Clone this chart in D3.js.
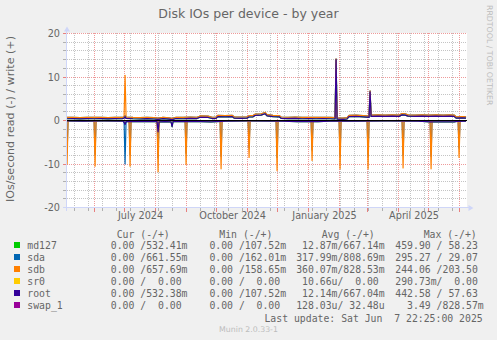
<!DOCTYPE html>
<html><head><meta charset="utf-8">
<script src="https://cdn.jsdelivr.net/npm/d3@7"></script>
<style>
html,body{margin:0;padding:0;background:#f0f0f0;}
svg{display:block;}
text{font-family:"DejaVu Sans",sans-serif;fill:#666;}
.mono{font-family:"DejaVu Sans Mono",monospace;white-space:pre;font-size:9.8px;}
</style></head><body>
<svg id="chart" width="497" height="340"></svg>
<script>
// ---- chart text ----
const title = "Disk IOs per device - by year";
const yLabel = "IOs/second read (-) / write (+)";
const yTicks = [-20, -10, 0, 10, 20];
const monthLabelMonths = ["2024-07-01", "2024-10-01", "2025-01-01", "2025-04-01"];
const monthLabels = ["July 2024", "October 2024", "January 2025", "April 2025"];
const rangeStart = "2024-05-03T22:25";
const rangeEnd = "2025-06-07T22:25";

// ---- devices ----
const devices = ["md127", "sda", "sdb", "sr0", "root", "swap_1"];
const colors = ["#00cc00", "#0066b3", "#ff8000", "#ffcc00", "#330099", "#990099"];

// ---- daily averages, read (plotted below zero) and write (above zero) ----
const md127Read = [["2024-05-04",0.10],["2024-05-20",0.15],["2024-06-10",0.10],["2024-06-29",0.15],["2024-06-30",0.40],["2024-07-01",0.90],["2024-07-02",0.25],["2024-07-15",0.20],["2024-08-02",0.25],["2024-08-03",2.60],["2024-08-04",0.30],["2024-08-10",0.25],["2024-08-16",0.30],["2024-08-17",1.40],["2024-08-18",0.25],["2024-09-05",0.20],["2024-09-25",0.30],["2024-10-10",0.15],["2024-11-01",0.10],["2024-12-05",0.15],["2024-12-20",0.25],["2025-01-10",0.25],["2025-01-27",0.10],["2025-02-15",0.15],["2025-03-20",0.10],["2025-04-20",0.15],["2025-05-02",0.30],["2025-05-26",0.30],["2025-05-29",0.20],["2025-06-07",0.15]];
const md127Write = [["2024-05-04",0.40],["2024-05-10",0.45],["2024-05-17",0.38],["2024-05-24",0.42],["2024-05-31",0.40],["2024-06-07",0.45],["2024-06-14",0.38],["2024-06-21",0.42],["2024-06-28",0.40],["2024-06-30",0.55],["2024-07-01",0.85],["2024-07-02",0.50],["2024-07-09",0.40],["2024-07-16",0.35],["2024-07-23",0.42],["2024-07-30",0.35],["2024-08-03",0.25],["2024-08-08",0.45],["2024-08-14",0.30],["2024-08-17",0.20],["2024-08-21",0.45],["2024-08-28",0.40],["2024-09-04",0.50],["2024-09-11",0.45],["2024-09-14",0.75],["2024-09-22",0.70],["2024-09-26",0.45],["2024-09-30",0.50],["2024-10-02",0.90],["2024-10-09",0.85],["2024-10-16",0.90],["2024-10-18",0.55],["2024-10-25",0.50],["2024-10-31",0.55],["2024-11-02",0.80],["2024-11-06",0.85],["2024-11-08",1.15],["2024-11-14",1.25],["2024-11-18",1.55],["2024-11-20",1.05],["2024-11-26",0.90],["2024-12-02",0.85],["2024-12-04",0.50],["2024-12-11",0.45],["2024-12-18",0.50],["2024-12-25",0.40],["2025-01-01",0.45],["2025-01-08",0.40],["2025-01-15",0.45],["2025-01-22",0.40],["2025-01-27",0.35],["2025-01-28",14.0],["2025-01-29",0.30],["2025-02-04",0.25],["2025-02-08",0.35],["2025-02-10",0.90],["2025-02-17",0.95],["2025-02-24",0.85],["2025-03-02",0.70],["2025-03-03",6.6],["2025-03-04",0.95],["2025-03-11",1.00],["2025-03-18",0.95],["2025-03-25",1.00],["2025-04-01",0.95],["2025-04-04",1.30],["2025-04-07",1.25],["2025-04-10",1.00],["2025-04-17",0.95],["2025-04-24",1.00],["2025-05-01",0.95],["2025-05-08",1.00],["2025-05-15",0.95],["2025-05-22",1.00],["2025-05-26",0.95],["2025-05-28",0.55],["2025-06-03",0.60],["2025-06-07",0.55]];

const sdaRead = [["2024-05-04",7.5],["2024-05-05",0.02],["2024-05-31",0.02],["2024-06-01",7.8],["2024-06-02",0.02],["2024-06-30",0.02],["2024-07-01",10.0],["2024-07-02",0.02],["2024-07-05",0.02],["2024-07-06",7.8],["2024-07-07",0.02],["2024-08-02",0.02],["2024-08-03",8.6],["2024-08-04",0.02],["2024-08-30",0.02],["2024-08-31",7.5],["2024-09-01",0.02],["2024-10-04",0.02],["2024-10-05",8.2],["2024-10-06",0.02],["2024-11-01",0.02],["2024-11-02",6.3],["2024-11-03",0.02],["2024-11-29",0.02],["2024-11-30",8.5],["2024-12-01",0.02],["2025-01-03",0.02],["2025-01-04",6.8],["2025-01-05",0.02],["2025-01-31",0.02],["2025-02-01",8.2],["2025-02-02",0.02],["2025-02-28",0.02],["2025-03-01",8.2],["2025-03-02",0.02],["2025-04-04",0.02],["2025-04-05",8.0],["2025-04-06",0.02],["2025-05-02",0.02],["2025-05-03",8.2],["2025-05-04",0.02],["2025-05-30",0.02],["2025-05-31",6.3],["2025-06-01",0.02],["2025-06-07",0.02]];
const sdaWrite = [["2024-05-04",0.70],["2024-05-10",0.75],["2024-05-17",0.68],["2024-05-24",0.72],["2024-05-31",0.70],["2024-06-07",0.75],["2024-06-14",0.68],["2024-06-21",0.72],["2024-06-28",0.70],["2024-06-30",0.85],["2024-07-01",1.15],["2024-07-02",0.80],["2024-07-09",0.70],["2024-07-16",0.65],["2024-07-23",0.72],["2024-07-30",0.65],["2024-08-03",0.55],["2024-08-08",0.75],["2024-08-14",0.60],["2024-08-17",0.50],["2024-08-21",0.75],["2024-08-28",0.70],["2024-09-04",0.80],["2024-09-11",0.75],["2024-09-14",1.05],["2024-09-22",1.00],["2024-09-26",0.75],["2024-09-30",0.80],["2024-10-02",1.20],["2024-10-09",1.15],["2024-10-16",1.20],["2024-10-18",0.85],["2024-10-25",0.80],["2024-10-31",0.85],["2024-11-02",1.10],["2024-11-06",1.15],["2024-11-08",1.45],["2024-11-14",1.55],["2024-11-18",1.85],["2024-11-20",1.35],["2024-11-26",1.20],["2024-12-02",1.15],["2024-12-04",0.80],["2024-12-11",0.75],["2024-12-18",0.80],["2024-12-25",0.70],["2025-01-01",0.75],["2025-01-08",0.70],["2025-01-15",0.75],["2025-01-22",0.70],["2025-01-27",0.65],["2025-01-28",14.2],["2025-01-29",0.60],["2025-02-04",0.55],["2025-02-08",0.65],["2025-02-10",1.20],["2025-02-17",1.25],["2025-02-24",1.15],["2025-03-02",1.00],["2025-03-03",6.8],["2025-03-04",1.25],["2025-03-11",1.30],["2025-03-18",1.25],["2025-03-25",1.30],["2025-04-01",1.25],["2025-04-04",1.60],["2025-04-07",1.55],["2025-04-10",1.30],["2025-04-17",1.25],["2025-04-24",1.30],["2025-05-01",1.25],["2025-05-08",1.30],["2025-05-15",1.25],["2025-05-22",1.30],["2025-05-26",1.25],["2025-05-28",0.85],["2025-06-03",0.90],["2025-06-07",0.85]];

const sdbRead = [["2024-05-04",10.1],["2024-05-05",0.03],["2024-05-31",0.03],["2024-06-01",10.5],["2024-06-02",0.03],["2024-07-05",0.03],["2024-07-06",10.5],["2024-07-07",0.03],["2024-08-02",0.03],["2024-08-03",11.8],["2024-08-04",0.03],["2024-08-30",0.03],["2024-08-31",10.1],["2024-09-01",0.03],["2024-10-04",0.03],["2024-10-05",11.1],["2024-10-06",0.03],["2024-11-01",0.03],["2024-11-02",8.5],["2024-11-03",0.03],["2024-11-29",0.03],["2024-11-30",11.5],["2024-12-01",0.03],["2025-01-03",0.03],["2025-01-04",9.2],["2025-01-05",0.03],["2025-01-31",0.03],["2025-02-01",11.1],["2025-02-02",0.03],["2025-02-28",0.03],["2025-03-01",11.1],["2025-03-02",0.03],["2025-04-04",0.03],["2025-04-05",10.9],["2025-04-06",0.03],["2025-05-02",0.03],["2025-05-03",11.1],["2025-05-04",0.03],["2025-05-30",0.03],["2025-05-31",8.5],["2025-06-01",0.03],["2025-06-07",0.03]];
const sdbWrite = [["2024-05-04",0.70],["2024-05-10",0.75],["2024-05-17",0.68],["2024-05-24",0.72],["2024-05-31",0.70],["2024-06-07",0.75],["2024-06-14",0.68],["2024-06-21",0.72],["2024-06-28",0.70],["2024-06-30",0.85],["2024-07-01",10.4],["2024-07-02",0.80],["2024-07-09",0.70],["2024-07-16",0.65],["2024-07-23",0.72],["2024-07-30",0.65],["2024-08-03",0.55],["2024-08-08",0.75],["2024-08-14",0.60],["2024-08-17",0.50],["2024-08-21",0.75],["2024-08-28",0.70],["2024-09-04",0.80],["2024-09-11",0.75],["2024-09-14",1.05],["2024-09-22",1.00],["2024-09-26",0.75],["2024-09-30",0.80],["2024-10-02",1.20],["2024-10-09",1.15],["2024-10-16",1.20],["2024-10-18",0.85],["2024-10-25",0.80],["2024-10-31",0.85],["2024-11-02",1.10],["2024-11-06",1.15],["2024-11-08",1.45],["2024-11-14",1.55],["2024-11-18",1.85],["2024-11-20",1.35],["2024-11-26",1.20],["2024-12-02",1.15],["2024-12-04",0.80],["2024-12-11",0.75],["2024-12-18",0.80],["2024-12-25",0.70],["2025-01-01",0.75],["2025-01-08",0.70],["2025-01-15",0.75],["2025-01-22",0.70],["2025-01-27",0.65],["2025-01-28",14.2],["2025-01-29",0.60],["2025-02-04",0.55],["2025-02-08",0.65],["2025-02-10",1.20],["2025-02-17",1.25],["2025-02-24",1.15],["2025-03-02",1.00],["2025-03-03",6.8],["2025-03-04",1.25],["2025-03-11",1.30],["2025-03-18",1.25],["2025-03-25",1.30],["2025-04-01",1.25],["2025-04-04",1.60],["2025-04-07",1.55],["2025-04-10",1.30],["2025-04-17",1.25],["2025-04-24",1.30],["2025-05-01",1.25],["2025-05-08",1.30],["2025-05-15",1.25],["2025-05-22",1.30],["2025-05-26",1.25],["2025-05-28",0.85],["2025-06-03",0.90],["2025-06-07",0.85]];

const sr0Read = [["2024-05-04",0],["2025-06-07",0]];
const sr0Write = [["2024-05-04",0],["2025-06-07",0]];

const rootRead = [["2024-05-04",0.10],["2024-05-20",0.15],["2024-06-10",0.10],["2024-06-29",0.15],["2024-06-30",0.40],["2024-07-01",0.90],["2024-07-02",0.25],["2024-07-15",0.20],["2024-08-02",0.25],["2024-08-03",2.60],["2024-08-04",0.30],["2024-08-10",0.25],["2024-08-16",0.30],["2024-08-17",1.40],["2024-08-18",0.25],["2024-09-05",0.20],["2024-09-25",0.30],["2024-10-10",0.15],["2024-11-01",0.10],["2024-12-05",0.15],["2024-12-20",0.25],["2025-01-10",0.25],["2025-01-27",0.10],["2025-02-15",0.15],["2025-03-20",0.10],["2025-04-20",0.15],["2025-05-02",0.30],["2025-05-26",0.30],["2025-05-29",0.20],["2025-06-07",0.15]];
const rootWrite = [["2024-05-04",0.40],["2024-05-10",0.45],["2024-05-17",0.38],["2024-05-24",0.42],["2024-05-31",0.40],["2024-06-07",0.45],["2024-06-14",0.38],["2024-06-21",0.42],["2024-06-28",0.40],["2024-06-30",0.55],["2024-07-01",0.85],["2024-07-02",0.50],["2024-07-09",0.40],["2024-07-16",0.35],["2024-07-23",0.42],["2024-07-30",0.35],["2024-08-03",0.25],["2024-08-08",0.45],["2024-08-14",0.30],["2024-08-17",0.20],["2024-08-21",0.45],["2024-08-28",0.40],["2024-09-04",0.50],["2024-09-11",0.45],["2024-09-14",0.75],["2024-09-22",0.70],["2024-09-26",0.45],["2024-09-30",0.50],["2024-10-02",0.90],["2024-10-09",0.85],["2024-10-16",0.90],["2024-10-18",0.55],["2024-10-25",0.50],["2024-10-31",0.55],["2024-11-02",0.80],["2024-11-06",0.85],["2024-11-08",1.15],["2024-11-14",1.25],["2024-11-18",1.55],["2024-11-20",1.05],["2024-11-26",0.90],["2024-12-02",0.85],["2024-12-04",0.50],["2024-12-11",0.45],["2024-12-18",0.50],["2024-12-25",0.40],["2025-01-01",0.45],["2025-01-08",0.40],["2025-01-15",0.45],["2025-01-22",0.40],["2025-01-27",0.35],["2025-01-28",14.0],["2025-01-29",0.30],["2025-02-04",0.25],["2025-02-08",0.35],["2025-02-10",0.90],["2025-02-17",0.95],["2025-02-24",0.85],["2025-03-02",0.70],["2025-03-03",6.6],["2025-03-04",0.95],["2025-03-11",1.00],["2025-03-18",0.95],["2025-03-25",1.00],["2025-04-01",0.95],["2025-04-04",1.30],["2025-04-07",1.25],["2025-04-10",1.00],["2025-04-17",0.95],["2025-04-24",1.00],["2025-05-01",0.95],["2025-05-08",1.00],["2025-05-15",0.95],["2025-05-22",1.00],["2025-05-26",0.95],["2025-05-28",0.55],["2025-06-03",0.60],["2025-06-07",0.55]];

const swapRead = [["2024-05-04",0],["2025-06-07",0]];
const swapWrite = [["2024-05-04",0],["2025-06-07",0]];

const readSeries = [md127Read, sdaRead, sdbRead, sr0Read, rootRead, swapRead];
const writeSeries = [md127Write, sdaWrite, sdbWrite, sr0Write, rootWrite, swapWrite];

// ---- legend table ----
const legendHeaders = ["Cur (-/+)", "Min (-/+)", "Avg (-/+)", "Max (-/+)"];
const curText = ["  0.00 /532.41m", "  0.00 /661.55m", "  0.00 /657.69m", "  0.00 /  0.00 ", "  0.00 /532.38m", "  0.00 /  0.00 "];
const minText = ["  0.00 /107.52m", "  0.00 /162.01m", "  0.00 /158.65m", "  0.00 /  0.00 ", "  0.00 /107.52m", "  0.00 /  0.00 "];
const avgText = [" 12.87m/667.14m", "317.99m/808.69m", "360.07m/828.53m", " 10.66u/  0.00 ", " 12.14m/667.04m", "128.03u/ 32.48u"];
const maxText = ["459.90 / 58.23 ", "295.27 / 29.07 ", "244.06 /203.50 ", "290.73m/  0.00 ", "442.58 / 57.63 ", "  3.49 /828.57m"];
const lastUpdate = "Last update: Sat Jun  7 22:25:00 2025";
const footer = "Munin 2.0.33-1";
const watermark = "RRDTOOL / TOBI OETIKER";

// ---- layout ----
const svg = d3.select("#chart");
const plot = {left: 67, right: 467, top: 33, bottom: 208};
const parseDay = d3.utcParse("%Y-%m-%d");
const parseTime = d3.utcParse("%Y-%m-%dT%H:%M");
const t0 = parseTime(rangeStart), t1 = parseTime(rangeEnd);

const x = d3.scaleUtc().domain([t0, t1]).range([plot.left, plot.right]);
const y = d3.scaleLinear().domain([-20, 20]).range([207.5, 33.5]);
const snapX = v => Math.floor(v) - 0.5;
const snapY = v => Math.round(v - 0.5) + 0.5;

svg.append("rect").attr("width", 497).attr("height", 340).attr("fill", "#f0f0f0");
svg.append("rect").attr("x", plot.left).attr("y", plot.top)
  .attr("width", plot.right - plot.left).attr("height", plot.bottom - plot.top).attr("fill", "#ffffff");

const grid = svg.append("g");
const minorColor = "#c4c4c4", majorColor = "#ee9a9a";

// horizontal grid
const yMinor = d3.range(-20, 21, 2).filter(v => v % 10 !== 0);
yMinor.forEach(v => {
  const yy = snapY(y(v));
  grid.append("line").attr("x1", plot.left).attr("x2", plot.right).attr("y1", yy).attr("y2", yy)
    .attr("stroke", minorColor).attr("stroke-dasharray", "1 1");
  grid.append("line").attr("x1", 63).attr("x2", plot.left).attr("y1", yy).attr("y2", yy)
    .attr("stroke", "#b0b0b0");
});
// vertical grid: fortnightly minor lines, monthly major lines
const minorDays = d3.utcDay.range(parseDay("2024-05-12"), t1, 14);
minorDays.forEach(d => {
  const xx = snapX(x(d));
  grid.append("line").attr("x1", xx).attr("x2", xx).attr("y1", plot.top).attr("y2", plot.bottom)
    .attr("stroke", minorColor).attr("stroke-dasharray", "1 1");
  grid.append("line").attr("x1", xx).attr("x2", xx).attr("y1", plot.bottom).attr("y2", plot.bottom + 3)
    .attr("stroke", "#b0b0b0");
});
const majorGrid = svg.append("g").attr("class", "major-grid");
yTicks.forEach(v => {
  const yy = snapY(y(v));
  majorGrid.append("line").attr("x1", plot.left).attr("x2", plot.right).attr("y1", yy).attr("y2", yy)
    .attr("stroke", majorColor).attr("stroke-dasharray", "1 1");
  majorGrid.append("line").attr("x1", 63).attr("x2", plot.left).attr("y1", yy).attr("y2", yy)
    .attr("stroke", "#e88080");
});
const months = d3.utcMonth.range(t0, t1);
months.forEach(d => {
  const xx = snapX(x(d));
  majorGrid.append("line").attr("x1", xx).attr("x2", xx).attr("y1", plot.top).attr("y2", plot.bottom)
    .attr("stroke", majorColor).attr("stroke-dasharray", "1 1");
  majorGrid.append("line").attr("x1", xx).attr("x2", xx).attr("y1", plot.bottom).attr("y2", plot.bottom + 4)
    .attr("stroke", "#e88080");
});

// data lines
const line = d3.line().x(d => x(parseDay(d[0]))).y(d => y(d[1]));
const lines = svg.append("g").attr("fill", "none").attr("stroke-width", 1.2).attr("stroke-linejoin", "round");
devices.forEach((name, i) => {
  lines.append("path").datum(readSeries[i].map(d => [d[0], -d[1]]))
    .attr("d", line).attr("stroke", colors[i]);
  lines.append("path").datum(writeSeries[i])
    .attr("d", line).attr("stroke", colors[i]);
});

// zero rule
svg.append("line").attr("x1", plot.left).attr("x2", plot.right)
  .attr("y1", snapY(y(0))).attr("y2", snapY(y(0))).attr("stroke", "#000").attr("stroke-width", 1);

// axes with arrows
const axisColor = "#cfd6f8";
svg.append("line").attr("x1", 63).attr("x2", 471).attr("y1", 207.5).attr("y2", 207.5).attr("stroke", axisColor);
svg.append("path").attr("d", "M468.5,205 L473.5,208 L468.5,211 Z").attr("fill", axisColor);
svg.append("line").attr("x1", 66.5).attr("x2", 66.5).attr("y1", 211).attr("y2", 29).attr("stroke", axisColor);
svg.append("path").attr("d", "M64,31.5 L67,26.5 L70,31.5 Z").attr("fill", axisColor);

// tick labels
yTicks.forEach(v => {
  svg.append("text").attr("x", 60).attr("y", y(v) + 3.6).attr("text-anchor", "end")
    .attr("font-size", "9.7px").text(v);
});
monthLabelMonths.forEach((m, i) => {
  const a = parseDay(m), b = d3.utcMonth.offset(a, 1);
  svg.append("text").attr("x", (x(a) + x(b)) / 2).attr("y", 218.5).attr("text-anchor", "middle")
    .attr("font-size", "9.7px").text(monthLabels[i]);
});

// titles
svg.append("text").attr("x", 248.5).attr("y", 18.3).attr("text-anchor", "middle")
  .attr("font-size", "12.5px").text(title);
svg.append("text").attr("transform", "translate(14,119) rotate(-90)").attr("text-anchor", "middle")
  .attr("font-size", "11.1px").text(yLabel);
svg.append("text").attr("transform", "translate(487,5) rotate(90)").attr("text-anchor", "start")
  .attr("font-size", "7.8px").style("fill", "#bdbdbd").text(watermark);

// legend
const legend = svg.append("g");
const headerX = [116.7, 219.3, 321.7, 423.7];
legendHeaders.forEach((h, i) => {
  legend.append("text").attr("class", "mono").attr("x", headerX[i]).attr("y", 237.5).text(h);
});
const colX = [99, 197.6, 296.2, 395.3];
const cols = [curText, minText, avgText, maxText];
devices.forEach((name, i) => {
  const base = 248.5 + i * 12;
  legend.append("rect").attr("x", 14).attr("y", 242 + i * 12).attr("width", 6).attr("height", 6)
    .attr("fill", colors[i]);
  legend.append("text").attr("class", "mono").attr("x", 27.3).attr("y", base).text(name);
  cols.forEach((c, j) => {
    legend.append("text").attr("class", "mono").attr("x", colX[j]).attr("y", base).text(c[i]);
  });
});
legend.append("text").attr("class", "mono").attr("x", 482.7).attr("y", 321.8)
  .attr("text-anchor", "end").text(lastUpdate);
svg.append("text").attr("x", 248.5).attr("y", 331.5).attr("text-anchor", "middle")
  .attr("font-size", "7.8px").style("fill", "#bdbdbd").text(footer);
</script>
</body></html>
